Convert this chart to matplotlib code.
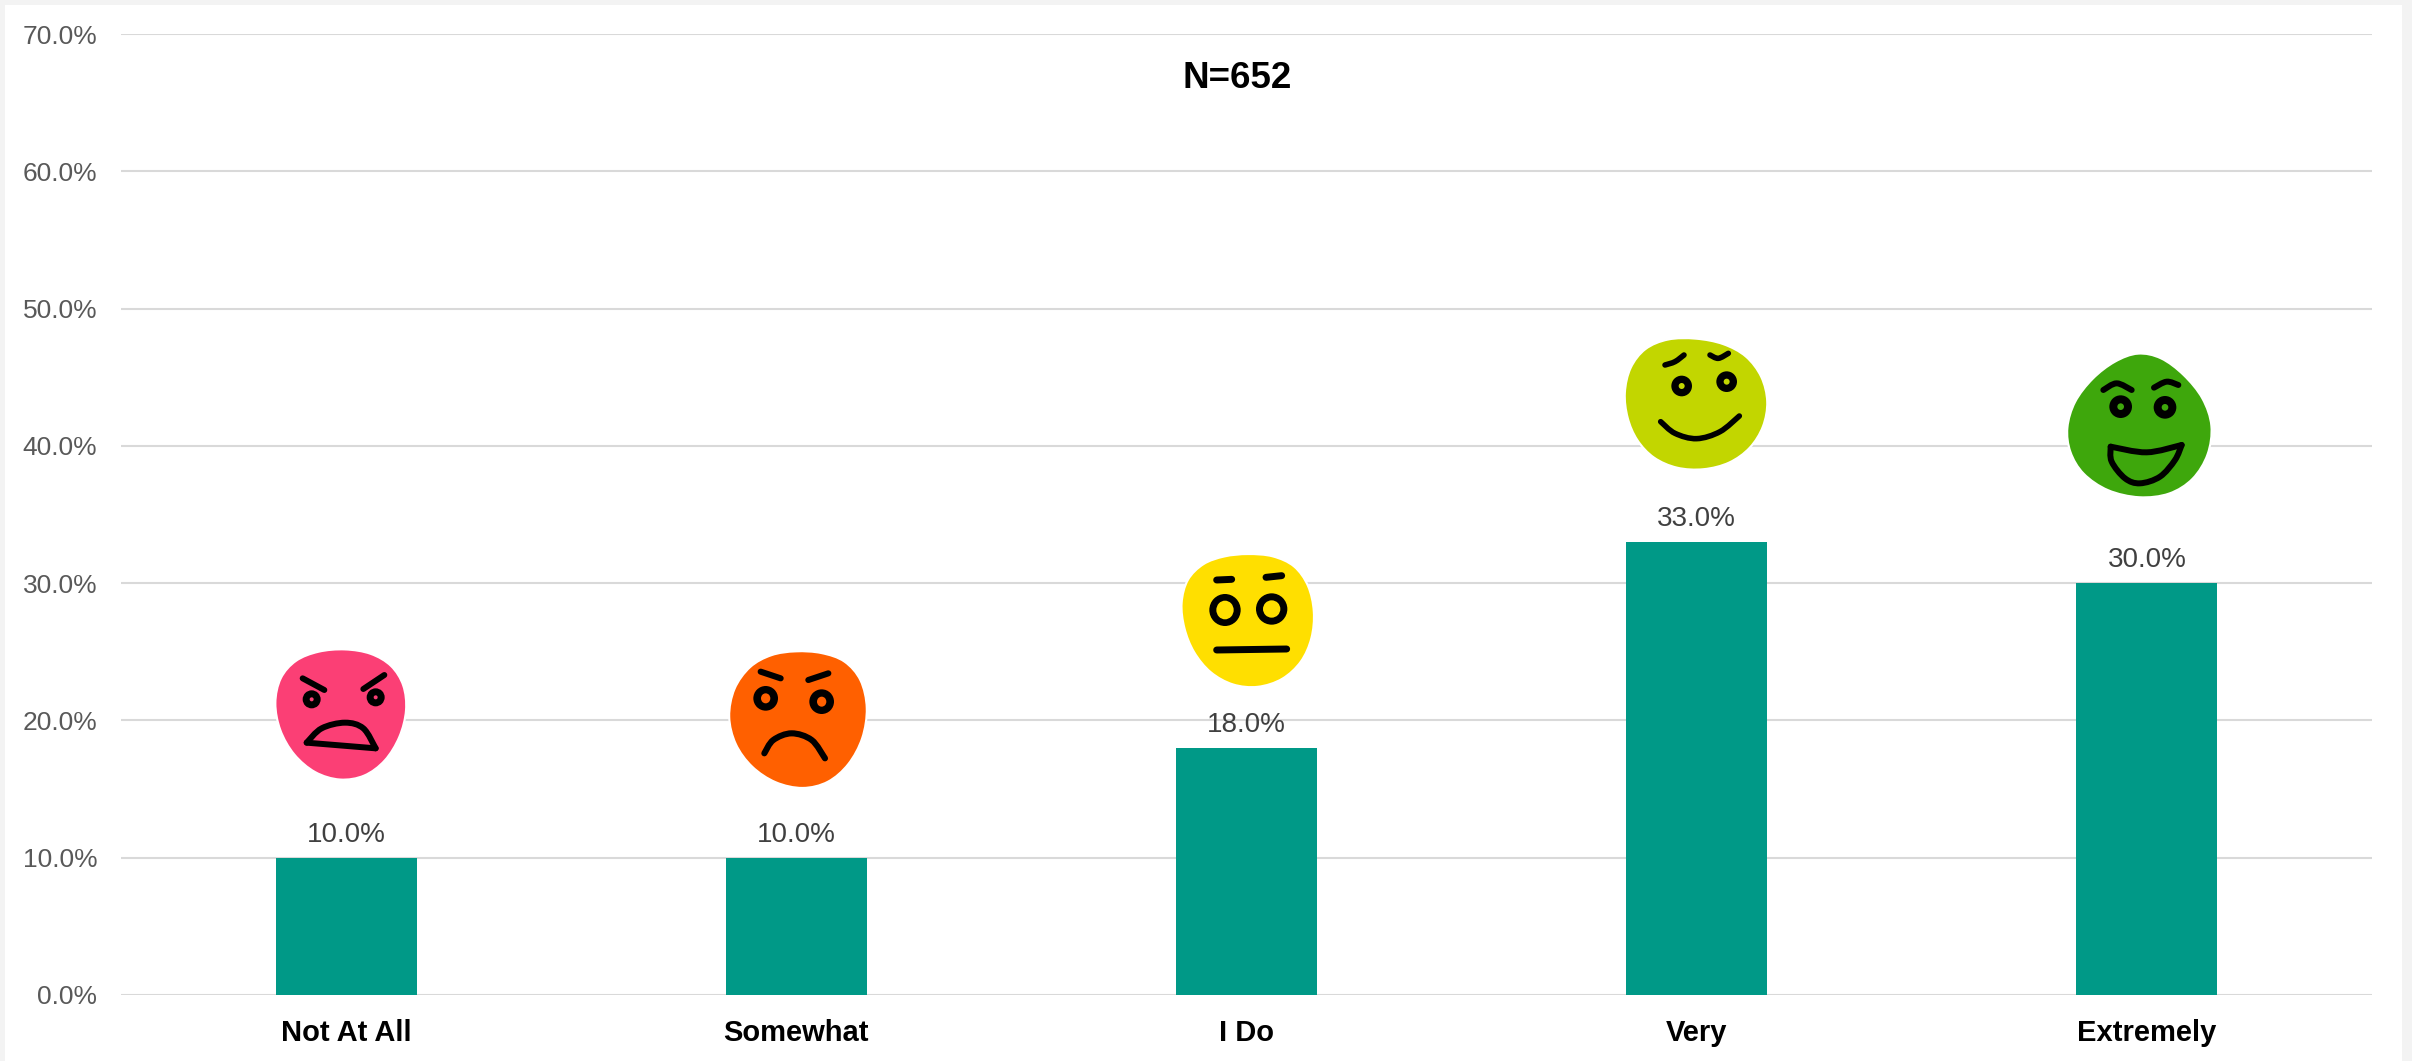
"""plot.py - survey bars with hand-drawn mood faces above them."""
import numpy as np
import matplotlib

matplotlib.use("Agg")
import matplotlib.pyplot as plt  # noqa: E402
from matplotlib.patches import Ellipse, PathPatch, Rectangle  # noqa: E402
from matplotlib.path import Path  # noqa: E402

W, H = 2412, 1061
TEAL = "#009987"
GRID = "#d9d9d9"
EDGE = "#f3f3f3"

categories = ["Not At All", "Somewhat", "I Do", "Very", "Extremely"]
values = [10.0, 10.0, 18.0, 33.0, 30.0]
y_ticks = [0, 10, 20, 30, 40, 50, 60, 70]
title = "N=652"

plt.rcParams["font.family"] = ["Liberation Sans", "DejaVu Sans"]

# faces traced at 3x from crops of the original; origin is the crop's corner
FACES = [
    dict(origin=(265, 640), color="#fb3f75", lw=4.3,
         outline=[(240, 28), (320, 40), (380, 75), (418, 135), (425, 210), (405, 290), (360, 365), (300, 410),
                  (225, 422), (150, 400), (85, 345), (45, 270), (27, 190), (45, 110), (90, 60), (160, 35)],
         eyes=[(140, 178, 27, 27, 6, 6), (332, 172, 27, 27, 6, 6)],
         strokes=[[(113, 115), (178, 150)], [(295, 147), (358, 105)],
                  [(125, 308), (170, 265), (240, 248), (295, 265), (332, 325)],
                  [(125, 308), (332, 325)]]),
    dict(origin=(715, 645), color="#ff6000", lw=4.4,
         outline=[(240, 20), (320, 25), (390, 45), (440, 100), (458, 190), (445, 280), (400, 360), (340, 415),
                  (265, 432), (180, 415), (110, 365), (60, 300), (38, 215), (55, 130), (105, 60), (170, 30)],
         eyes=[(152, 160, 37, 37, 14, 15), (320, 170, 37, 37, 14, 15)],
         strokes=[[(137, 80), (197, 100)], [(280, 105), (340, 85)],
                  [(148, 325), (175, 285), (230, 265), (290, 285), (330, 340)]]),
    dict(origin=(1170, 545), color="#ffdf00", lw=5.0,
         outline=[(230, 30), (310, 32), (375, 60), (415, 120), (433, 200), (425, 280), (395, 350), (340, 405),
                  (260, 428), (190, 420), (120, 385), (70, 320), (45, 250), (32, 175), (50, 100), (100, 55), (165, 35)],
         eyes=[(165, 195, 47, 48, 26, 28), (305, 192, 47, 47, 26, 26)],
         strokes=[[(140, 105), (185, 103)], [(288, 97), (335, 92)], [(140, 315), (350, 312)]]),
    dict(origin=(1610, 330), color="#c2d600", lw=4.0,
         outline=[(170, 25), (260, 28), (340, 42), (410, 75), (455, 140), (475, 215), (460, 290), (420, 355),
                  (360, 400), (280, 418), (200, 415), (130, 385), (80, 330), (55, 265), (42, 190), (60, 110), (105, 55)],
         eyes=[(215, 168, 31, 31, 9, 9), (350, 155, 31, 31, 9, 9)],
         strokes=[[(165, 105), (195, 95), (222, 75)], [(300, 75), (325, 85), (355, 70)],
                  [(152, 275), (195, 310), (260, 326), (330, 305), (388, 258)]]),
    dict(origin=(2050, 345), color="#3ea70c", lw=4.3,
         outline=[(265, 20), (330, 35), (400, 90), (460, 160), (490, 240), (475, 330), (430, 405), (360, 450),
                  (270, 458), (170, 440), (95, 385), (60, 320), (50, 250), (70, 170), (130, 100), (195, 50)],
         eyes=[(212, 185, 34, 34, 10, 10), (345, 187, 34, 34, 10, 10)],
         strokes=[[(160, 135), (200, 115), (245, 135)], [(312, 128), (350, 110), (385, 120)],
                  [(182, 305), (290, 322), (395, 300)],
                  [(182, 305), (185, 350), (225, 400), (270, 415), (330, 395), (375, 345), (395, 300)]]),
]


def to_px(origin, pts):
    return [(origin[0] + x / 3, origin[1] + y / 3) for x, y in pts]


def soften(pts):
    """One neighbour-average pass over a closed trace, rescaled back to size."""
    pts = np.array(pts, dtype=float)
    out = (np.roll(pts, 1, axis=0) + 2 * pts + np.roll(pts, -1, axis=0)) / 4
    mid = out.mean(axis=0)
    return mid + (out - mid) * 1.025


def smooth(pts, closed=False):
    """Catmull-Rom through pts, as a bezier path."""
    pts = np.array(pts, dtype=float)
    if len(pts) == 2:
        return Path(pts)
    n = len(pts)
    verts = [pts[0]]
    codes = [Path.MOVETO]
    for i in range(n if closed else n - 1):
        if closed:
            p0, p1, p2, p3 = pts[i - 1], pts[i], pts[(i + 1) % n], pts[(i + 2) % n]
        else:
            p0, p1, p2, p3 = pts[max(i - 1, 0)], pts[i], pts[i + 1], pts[min(i + 2, n - 1)]
        verts += [p1 + (p2 - p0) / 6, p2 - (p3 - p1) / 6, p2]
        codes += [Path.CURVE4] * 3
    return Path(verts, codes)


def draw_face(ax, face):
    origin, color = face["origin"], face["color"]
    ax.add_patch(PathPatch(smooth(soften(to_px(origin, face["outline"])), closed=True),
                           facecolor=color, edgecolor="white", linewidth=1.5, zorder=5))
    for x, y, rx, ry, hx, hy in face["eyes"]:
        (px, py), = to_px(origin, [(x, y)])
        ax.add_patch(Ellipse((px, py), 2 * rx / 3, 2 * ry / 3, color="black", lw=0, zorder=6))
        ax.add_patch(Ellipse((px, py), 2 * hx / 3, 2 * hy / 3, color=color, lw=0, zorder=7))
    for stroke in face["strokes"]:
        ax.add_patch(PathPatch(smooth(to_px(origin, stroke)), facecolor="none", edgecolor="black",
                               linewidth=face["lw"], capstyle="round", joinstyle="round", zorder=8))


fig = plt.figure(figsize=(W / 100, H / 100), dpi=100, facecolor=EDGE)
fig.add_artist(Rectangle((5 / W, 0), (W - 15) / W, 1 - 5 / H, transform=fig.transFigure,
                         facecolor="white", edgecolor="none", zorder=-1))

ax = fig.add_axes([121 / W, 1 - 995 / H, 2251 / W, 961 / H])
ax.patch.set_visible(False)
x = np.arange(len(categories))
ax.bar(x, values, width=0.313, color=TEAL, zorder=3)
ax.set_xlim(-0.5, len(categories) - 0.5)
ax.set_ylim(0, 70)
ax.set_xticks(x, categories, fontweight="bold", fontsize=21, color="black")
ax.set_yticks(y_ticks, [f"{v:.1f}%" for v in y_ticks], fontsize=19, color="#595959")
ax.tick_params(axis="both", length=0)
ax.tick_params(axis="y", pad=17)
ax.tick_params(axis="x", pad=17)
ax.grid(axis="y", color=GRID, linewidth=1.5, zorder=0)
ax.set_axisbelow(True)
for s in ax.spines.values():
    s.set_visible(False)

for xi, v in zip(x, values):
    ax.annotate(f"{v:.1f}%", (xi, v), xytext=(0, 11.5), textcoords="offset points",
                ha="center", va="baseline", fontsize=20, color="#404040", zorder=4)

fig.text(1237 / W, 1 - 78 / H, title, ha="center", va="center",
         fontsize=26.5, fontweight="bold", color="black")

# overlay in image pixels for the faces
over = fig.add_axes([0, 0, 1, 1])
over.set_axis_off()
over.set_xlim(0, W)
over.set_ylim(H, 0)
for face in FACES:
    draw_face(over, face)

fig.savefig("out.png", facecolor=EDGE, dpi=100)
plt.close(fig)
